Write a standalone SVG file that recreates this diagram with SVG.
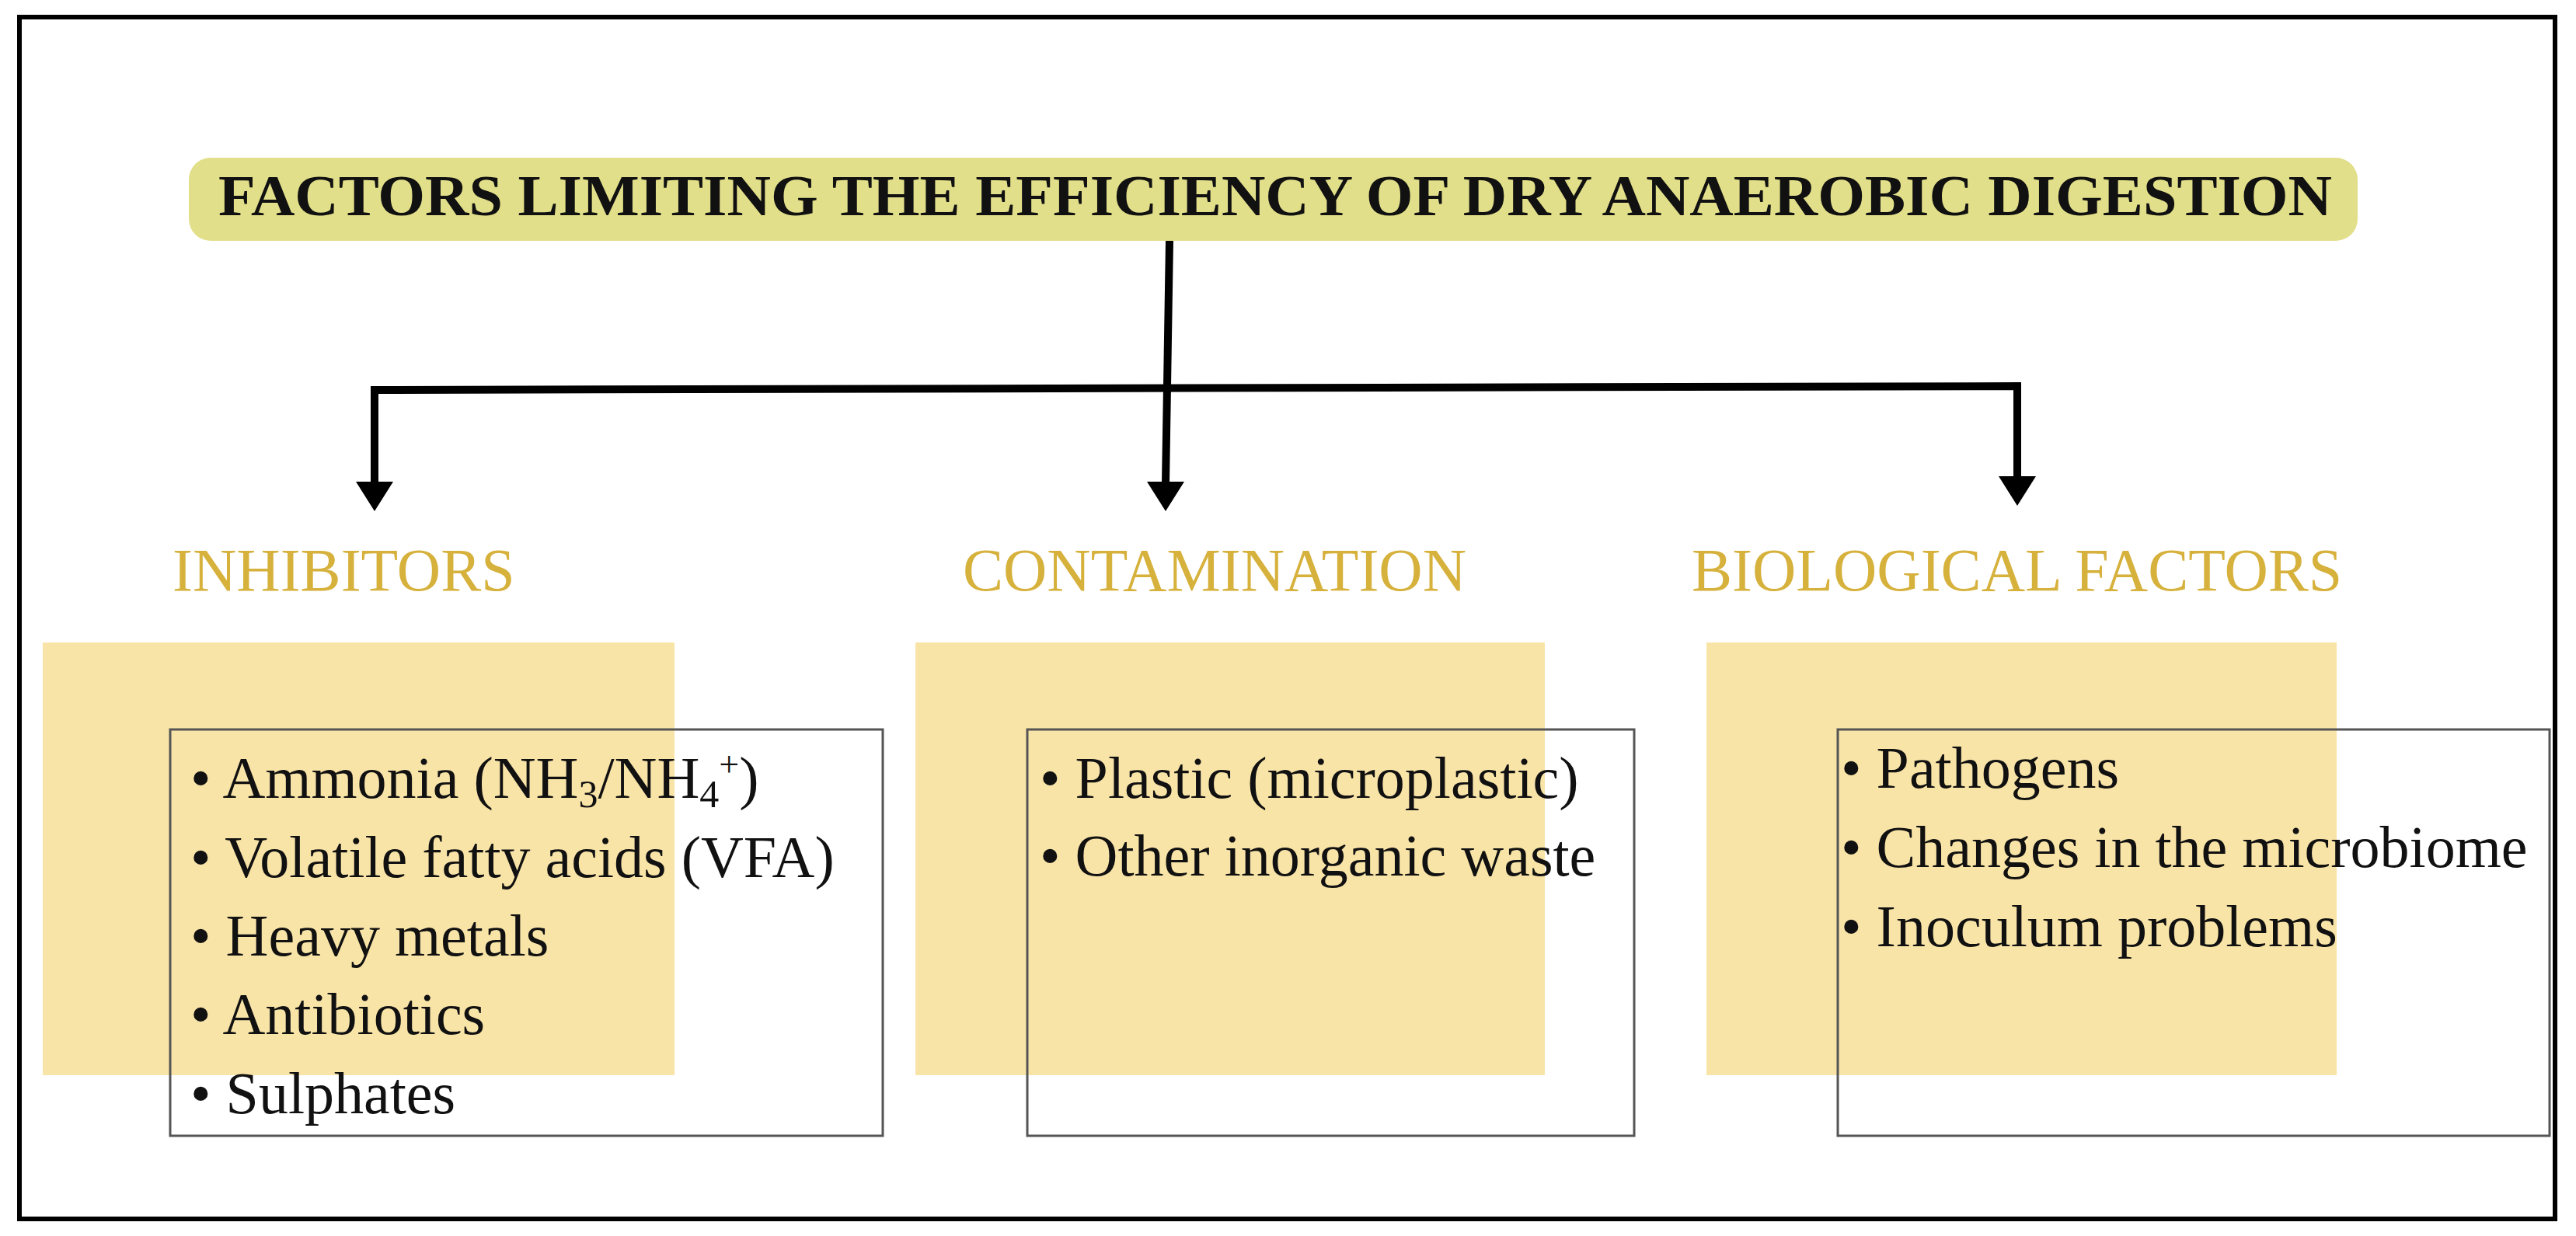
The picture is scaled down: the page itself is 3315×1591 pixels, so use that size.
<svg xmlns="http://www.w3.org/2000/svg" width="3315" height="1591" viewBox="0 0 3315 1591">
<style>
.t{font-family:"Liberation Serif",serif;font-size:76px;fill:#111}
.h{font-family:"Liberation Serif",serif;font-size:78px;fill:#d6b13c}
.sq{fill:#f9e3a3;fill-opacity:0.95}
.bx{fill:none;stroke:#555;stroke-width:3}
.c{fill:none;stroke:#000;stroke-width:10}
</style>
<defs><marker id="a" markerUnits="userSpaceOnUse" markerWidth="50" markerHeight="40" refX="25" refY="38" orient="auto-start-reverse" viewBox="0 0 50 40"><path d="M0,0 L50,0 L25,40 Z" fill="#000" transform="rotate(0)"/></marker></defs>
<rect x="25" y="22" width="3263" height="1547" fill="#fff" stroke="#000" stroke-width="6"/>
<g id="title"><rect x="243" y="203" width="2791" height="107" rx="28" fill="#e2df8a"/>
<text x="1641" y="277" text-anchor="middle" font-family="Liberation Serif,serif" font-weight="bold" font-size="74" textLength="2720" lengthAdjust="spacingAndGlyphs" fill="#111">FACTORS LIMITING THE EFFICIENCY OF DRY ANAEROBIC DIGESTION</text></g>
<g id="connectors">
<path class="c" d="M1505,310 L1500,622"/>
<path class="c" d="M482,622 L482,502 L2596,497 L2596,615"/>
<path d="M458,620 L506,620 L482,658 Z M1476,620 L1524,620 L1500,658 Z M2572,613 L2620,613 L2596,651 Z" fill="#000"/>
</g>
<g id="inhibitors">
<rect class="sq" x="55" y="827" width="813" height="557"/>
<rect class="bx" x="219" y="939" width="917" height="523"/>
<text class="h" x="222" y="760">INHIBITORS</text>
<text class="t" x="245" y="1027">• <tspan>Ammonia (NH<tspan font-size="50" dy="12">3</tspan><tspan dy="-12">/NH</tspan><tspan font-size="50" dy="12">4</tspan><tspan font-size="46" dy="-40">+</tspan><tspan dy="28">)</tspan></tspan></text>
<text class="t" x="245" y="1129">• Volatile fatty acids (VFA)</text>
<text class="t" x="245" y="1230">• Heavy metals</text>
<text class="t" x="245" y="1331">• Antibiotics</text>
<text class="t" x="245" y="1433">• Sulphates</text>
</g>
<g id="contamination">
<rect class="sq" x="1178" y="827" width="810" height="557"/>
<rect class="bx" x="1322" y="939" width="781" height="523"/>
<text class="h" x="1239" y="760">CONTAMINATION</text>
<text class="t" x="1338" y="1027">• Plastic (microplastic)</text>
<text class="t" x="1338" y="1127">• Other inorganic waste</text>
</g>
<g id="biological">
<rect class="sq" x="2196" y="827" width="811" height="557"/>
<rect class="bx" x="2365" y="939" width="916" height="523"/>
<text class="h" x="2177" y="760">BIOLOGICAL FACTORS</text>
<text class="t" x="2369" y="1014">• Pathogens</text>
<text class="t" x="2369" y="1116">• Changes in the microbiome</text>
<text class="t" x="2369" y="1218">• Inoculum problems</text>
</g>
</svg>
